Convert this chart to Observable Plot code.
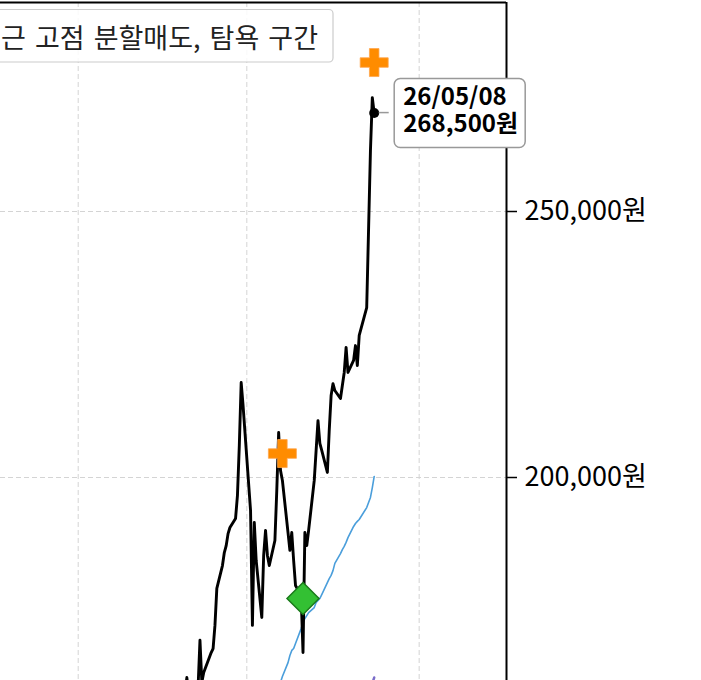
<!DOCTYPE html>
<html><head><meta charset="utf-8">
<script src="https://cdn.jsdelivr.net/npm/d3@7"></script>
<script src="https://cdn.jsdelivr.net/npm/@observablehq/plot@0.6"></script>
<style>
body{margin:0;background:#fff;}
#chart{position:relative;width:701px;height:680px;overflow:hidden;}
</style>
</head><body><div id="chart"></div>
<script>
// ---- data ----
const dates = ["2026-01-26","2026-01-27","2026-01-28","2026-01-29","2026-01-30","2026-02-02","2026-02-03","2026-02-04","2026-02-05","2026-02-06","2026-02-09","2026-02-10","2026-02-11","2026-02-12","2026-02-13","2026-02-16","2026-02-17","2026-02-18","2026-02-19","2026-02-20","2026-02-23","2026-02-24","2026-02-25","2026-02-26","2026-02-27","2026-03-03","2026-03-04","2026-03-05","2026-03-06","2026-03-09","2026-03-10","2026-03-11","2026-03-12","2026-03-13","2026-03-16","2026-03-17","2026-03-18","2026-03-19","2026-03-20","2026-03-23","2026-03-24","2026-03-25","2026-03-26","2026-03-27","2026-03-30","2026-03-31","2026-04-01","2026-04-02","2026-04-03","2026-04-06","2026-04-07","2026-04-08","2026-04-09","2026-04-10","2026-04-13","2026-04-14","2026-04-15","2026-04-16","2026-04-17","2026-04-20","2026-04-21","2026-04-22","2026-04-23","2026-04-24","2026-04-27","2026-04-28","2026-04-29","2026-04-30","2026-05-04","2026-05-06","2026-05-07","2026-05-08"];
const closePrices = [158100,159000,162400,159000,157700,159600,160700,169400,161500,163350,166150,167100,167850,172200,179150,183450,185900,187200,189450,190600,192300,196600,206000,217850,213550,193800,172200,191550,184400,173700,185350,190050,185350,183450,188150,197550,208450,201300,199450,189650,186300,189650,184400,179700,177800,167100,189650,187200,190050,199450,205100,210700,206400,205100,200950,208850,215400,217650,216350,214850,217300,219750,224450,219750,222000,224800,221050,226700,231950,261450,271400,268500];

const maDates = ["2026-03-16","2026-03-17","2026-03-18","2026-03-19","2026-03-20","2026-03-23","2026-03-24","2026-03-25","2026-03-26","2026-03-27","2026-03-30","2026-03-31","2026-04-01","2026-04-02","2026-04-03","2026-04-06","2026-04-07","2026-04-08","2026-04-09","2026-04-10","2026-04-13","2026-04-14","2026-04-15","2026-04-16","2026-04-17","2026-04-20","2026-04-21","2026-04-22","2026-04-23","2026-04-24","2026-04-27","2026-04-28","2026-04-29","2026-04-30","2026-05-04","2026-05-06","2026-05-07","2026-05-08"];
const maValues = [158100,159000,160000,161500,162600,165200,166550,167500,167850,168800,171600,172750,173500,174050,174600,175550,176500,176900,177250,178000,180250,181000,181600,182500,183850,185700,186450,187050,187800,188700,190800,191350,191750,192100,194350,196250,198100,200200];

const lowDates = ["2026-05-06","2026-05-07","2026-05-08"];
const lowValues = [160000,161300,162400];

const sellDates = ["2026-03-20","2026-05-08"];
const sellValues = [204500,278000];
const buyDates = ["2026-03-31"];
const buyValues = [177250];

const gridDates = ["2025-09-01","2025-12-01","2026-03-01","2026-06-01"];
const yTicks = [200000,250000];
const legendLabel = "최근 고점 분할매도, 탐욕 구간";

// ---- build ----
const parse = d3.utcParse("%Y-%m-%d");
const price = dates.map((d,i)=>({date: parse(d), value: closePrices[i]}));
const ma = maDates.map((d,i)=>({date: parse(d), value: maValues[i]}));
const low = lowDates.map((d,i)=>({date: parse(d), value: lowValues[i]}));
const sells = sellDates.map((d,i)=>({date: parse(d), value: sellValues[i]}));
const buys = buyDates.map((d,i)=>({date: parse(d), value: buyValues[i]}));
const last = price[price.length-1];

const DAY = 864e5;
const anchorT = Date.UTC(2026,2,1);
const xDomain = [new Date(anchorT - 131.47*DAY), new Date(anchorT + 138.62*DAY)];
const yDomain = [161843, 289286];
const font = "'Noto Sans CJK KR', 'Noto Sans', sans-serif";

const fatPlus = {draw(ctx, size){
  const r = Math.sqrt(size/Math.PI), a = r*0.34;
  ctx.moveTo(-a,-r); ctx.lineTo(a,-r); ctx.lineTo(a,-a); ctx.lineTo(r,-a); ctx.lineTo(r,a);
  ctx.lineTo(a,a); ctx.lineTo(a,r); ctx.lineTo(-a,r); ctx.lineTo(-a,a); ctx.lineTo(-r,a);
  ctx.lineTo(-r,-a); ctx.lineTo(-a,-a); ctx.closePath();
}};
const diamond = {draw(ctx, size){
  const r = Math.sqrt(size/Math.PI);
  ctx.moveTo(0,-r); ctx.lineTo(r,0); ctx.lineTo(0,r); ctx.lineTo(-r,0); ctx.closePath();
}};

const plot = Plot.plot({
  width: 701, height: 680,
  marginLeft: 0, marginRight: 195, marginTop: 2, marginBottom: 0,
  style: {fontFamily: font, fontSize: "27px", color: "black", background: "white", overflow: "hidden"},
  x: {type: "utc", domain: xDomain, axis: null},
  y: {domain: yDomain, axis: null},
  marks: [
    Plot.gridX(gridDates.map(parse), {stroke: "#d4d4d4", strokeOpacity: 1, strokeDasharray: "5,3", strokeWidth: 1}),
    Plot.gridY(yTicks, {stroke: "#d4d4d4", strokeOpacity: 1, strokeDasharray: "5,3", strokeWidth: 1}),
    Plot.axisY(yTicks, {anchor: "right", tickSize: 10, tickPadding: 8, strokeWidth: 1.5,
      tickFormat: d => d3.format(",")(d) + "원", fontSize: 27, label: null}),
    Plot.ruleY([yDomain[1]], {stroke: "black", strokeWidth: 2}),
    Plot.ruleX([xDomain[1]], {stroke: "black", strokeWidth: 2}),
    Plot.line(low, {x: "date", y: "value", stroke: "#7a6cc9", strokeWidth: 2.5}),
    Plot.line(ma, {x: "date", y: "value", stroke: "#4a9edb", strokeWidth: 1.6}),
    Plot.line(price, {x: "date", y: "value", stroke: "black", strokeWidth: 2.9}),
    Plot.dot(sells, {x: "date", y: "value", symbol: fatPlus, r: 14, fill: "#ff8c00", stroke: "#ffa64d", strokeWidth: 0.8}),
    Plot.dot(buys, {x: "date", y: "value", symbol: diamond, r: 16, fill: "#33c033", stroke: "#1a7a1a", strokeWidth: 1.5}),
    Plot.dot([last], {x: "date", y: "value", r: 5, fill: "black"}),
    Plot.text([last], {x: "date", y: "value",
      text: d => d3.utcFormat("%y/%m/%d")(d.date) + "\n" + d3.format(",")(d.value) + "원",
      dx: 29, dy: -3, textAnchor: "start", lineAnchor: "middle", lineHeight: 1.13,
      fontSize: 24, fontWeight: "bold", fill: "black"})
  ]
});

document.getElementById("chart").appendChild(plot);

// annotation box + connector, positioned through the plot's scales
const sx = plot.scale("x"), sy = plot.scale("y");
const px = sx.apply(last.date), py = sy.apply(last.value);
const ns = "http://www.w3.org/2000/svg";
let annG = Array.from(plot.querySelectorAll("text")).find(t => t.textContent.includes("26/05/08"));
while (annG && annG.parentNode !== plot) annG = annG.parentNode;
const conn = document.createElementNS(ns, "line");
d3.select(conn).attr("x1", px + 5).attr("x2", px + 15).attr("y1", py).attr("y2", py)
  .attr("stroke", "#999").attr("stroke-width", 1.5);
const box = document.createElementNS(ns, "rect");
d3.select(box).attr("x", px + 20.5).attr("y", py - 34).attr("width", 131).attr("height", 69)
  .attr("rx", 6).attr("fill", "white").attr("stroke", "#999").attr("stroke-width", 1.5);
plot.insertBefore(conn, annG || null);
plot.insertBefore(box, annG || null);
if (annG) plot.appendChild(annG);

// legend (partially outside the visible area, as in the reference)
const svg = d3.select(plot);
const lg = svg.append("g");
lg.append("rect").attr("x", -40).attr("y", 9.5).attr("width", 373).attr("height", 52.5).attr("rx", 4)
  .attr("fill", "white").attr("fill-opacity", 0.85).attr("stroke", "#cccccc").attr("stroke-width", 1.2);
lg.append("text").attr("x", 318).attr("y", 36).attr("text-anchor", "end").attr("dominant-baseline", "central")
  .attr("font-family", font).attr("font-size", 27).attr("word-spacing", "3px").attr("fill", "#222").text(legendLabel);
</script>
</body></html>
